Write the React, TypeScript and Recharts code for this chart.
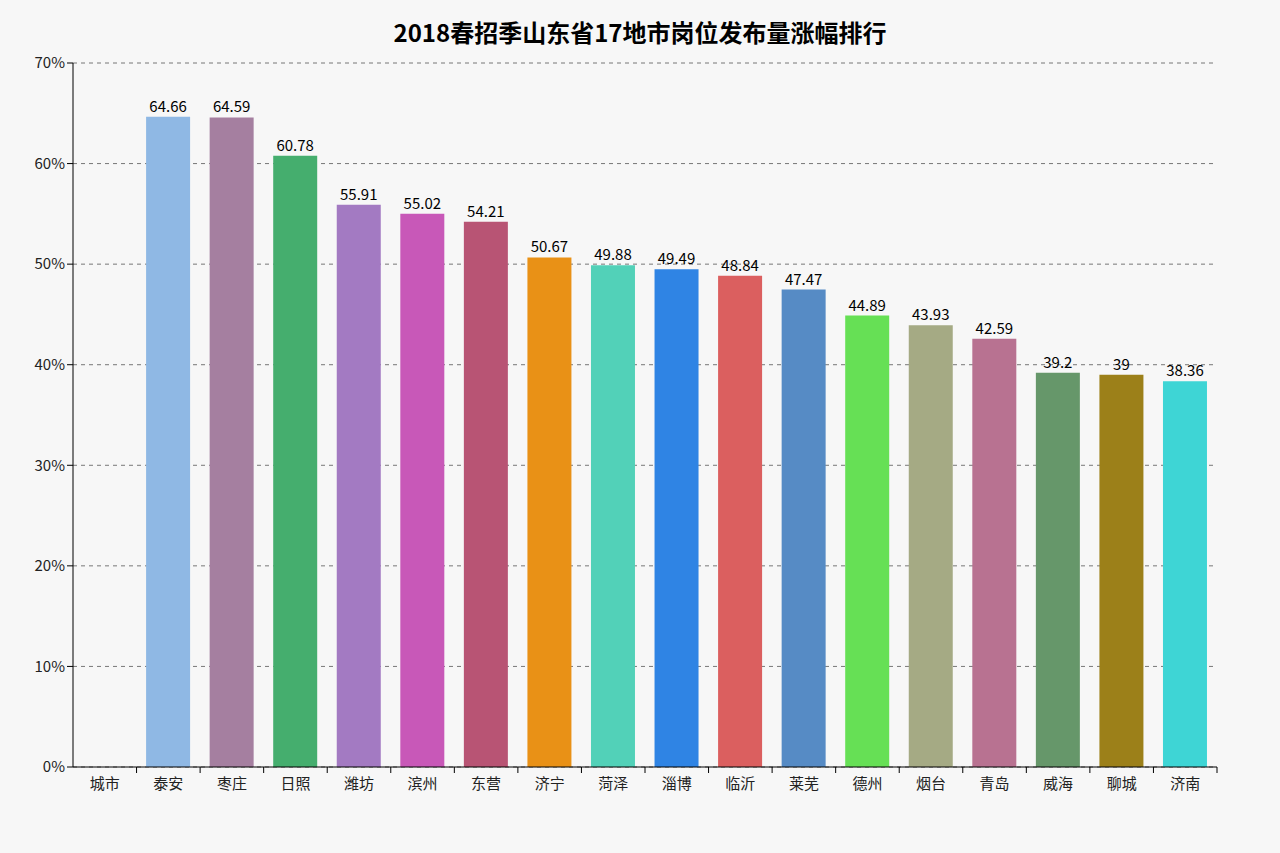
import { BarChart, Bar, XAxis, YAxis, CartesianGrid, LabelList, Cell } from 'recharts';

const cities = ['城市', '泰安', '枣庄', '日照', '潍坊', '滨州', '东营', '济宁', '菏泽', '淄博', '临沂', '莱芜', '德州', '烟台', '青岛', '威海', '聊城', '济南'];
const growth = [null, 64.66, 64.59, 60.78, 55.91, 55.02, 54.21, 50.67, 49.88, 49.49, 48.84, 47.47, 44.89, 43.93, 42.59, 39.2, 39, 38.36];
const barColors = ['#ffffff', '#8fb8e4', '#a57fa0', '#45ae6e', '#a37ac2', '#c858b8', '#b85474', '#e99116', '#52d1b8', '#2f84e4', '#db5f5f', '#568bc5', '#66e055', '#a5aa84', '#b87291', '#66976a', '#9c8019', '#3ed5d5'];
const yTicks = [0, 10, 20, 30, 40, 50, 60, 70];

const FONT = '"Noto Sans CJK SC", "Noto Sans", sans-serif';
const W = 1280;
const H = 853;
const PLOT_LEFT = 73;
const PLOT_RIGHT = 1217;
const PLOT_BOTTOM = 767;

const data = cities.map((city, i) => ({ city, value: growth[i] }));
const band = (PLOT_RIGHT - PLOT_LEFT) / cities.length;

function CityTick(props: any) {
  const { x, payload } = props;
  const edge = x + band / 2;
  return (
    <g>
      <line x1={edge} y1={PLOT_BOTTOM} x2={edge} y2={PLOT_BOTTOM + 6} stroke="#000" />
      <text x={x} y={PLOT_BOTTOM + 22} textAnchor="middle" fontSize={15} fill="#222" fontFamily={FONT}>
        {payload.value}
      </text>
    </g>
  );
}

export default function App() {
  return (
    <div style={{ position: 'absolute', left: 0, top: 0, width: W, height: H, background: '#f7f7f7', fontFamily: FONT }}>
      <div
        style={{
          position: 'absolute',
          top: 14,
          left: 0,
          width: W,
          textAlign: 'center',
          fontSize: 24,
          lineHeight: '36px',
          fontWeight: 'bold',
          color: '#000',
        }}
      >
        2018春招季山东省17地市岗位发布量涨幅排行
      </div>
      <BarChart
        width={W}
        height={H}
        data={data}
        margin={{ top: 63, right: W - PLOT_RIGHT, bottom: 0, left: 0 }}
        barCategoryGap="15%"
      >
        <CartesianGrid vertical={false} stroke="#777" strokeDasharray="4 4" />
        <XAxis
          dataKey="city"
          interval={0}
          tickLine={false}
          axisLine={{ stroke: '#000' }}
          tick={<CityTick />}
          height={H - PLOT_BOTTOM}
        />
        <YAxis
          width={PLOT_LEFT}
          domain={[0, 70]}
          ticks={yTicks}
          tickFormatter={(v) => `${v}%`}
          axisLine={{ stroke: '#000' }}
          tickLine={{ stroke: '#000' }}
          tickSize={6}
          tick={{ fontSize: 15, fill: '#222', fontFamily: FONT }}
        />
        <Bar dataKey="value" isAnimationActive={false}>
          {data.map((d, i) => (
            <Cell key={d.city} fill={barColors[i]} />
          ))}
          <LabelList dataKey="value" position="top" offset={5} fontSize={15} fill="#000" fontFamily={FONT} />
        </Bar>
      </BarChart>
    </div>
  );
}
